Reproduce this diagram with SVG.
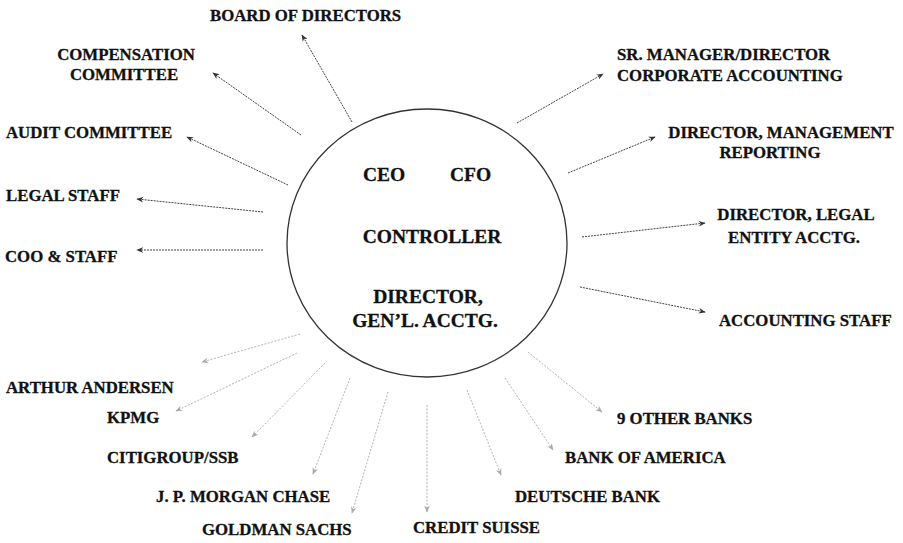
<svg xmlns="http://www.w3.org/2000/svg" width="903" height="543" viewBox="0 0 903 543">
  <style>
    text { font-family: "Liberation Serif", "Times New Roman", serif; font-weight: bold; fill: #111; stroke: #111; stroke-width: 0.3; }
    .lbl { font-size: 16.8px; }
    .core { font-size: 19.5px; }
    .mid { text-anchor: middle; }
    .link { fill: none; stroke: #444; stroke-width: 1; stroke-dasharray: 2 1; }
    .faint { fill: none; stroke: #b4b4b4; stroke-width: 1; stroke-dasharray: 2 1.5; }
  </style>
  <defs>
    <marker id="head" viewBox="0 0 10 8" refX="9" refY="4" markerWidth="7" markerHeight="6" orient="auto" markerUnits="userSpaceOnUse">
      <path d="M0,0 L10,4 L0,8 L3,4 z" fill="#333"/>
    </marker>
    <marker id="headFaint" viewBox="0 0 10 8" refX="9" refY="4" markerWidth="7" markerHeight="6" orient="auto" markerUnits="userSpaceOnUse">
      <path d="M0,0 L10,4 L0,8 L3,4 z" fill="#aaa"/>
    </marker>
  </defs>
  <rect width="903" height="543" fill="#fff"/>

  <!-- connectors -->
  <g id="connectors">
    <line class="link" x1="352" y1="122" x2="302" y2="35" marker-end="url(#head)"/>
    <line class="link" x1="301" y1="135" x2="213" y2="73" marker-end="url(#head)"/>
    <line class="link" x1="288" y1="185" x2="187" y2="137" marker-end="url(#head)"/>
    <line class="link" x1="263" y1="212" x2="137" y2="199" marker-end="url(#head)"/>
    <line class="link" x1="263" y1="250" x2="137" y2="250" marker-end="url(#head)"/>
    <line class="link" x1="517" y1="123" x2="603" y2="74" marker-end="url(#head)"/>
    <line class="link" x1="568" y1="173" x2="655" y2="137" marker-end="url(#head)"/>
    <line class="link" x1="582" y1="237" x2="705" y2="223" marker-end="url(#head)"/>
    <line class="link" x1="580" y1="287" x2="705" y2="312" marker-end="url(#head)"/>
    <line class="faint" x1="300" y1="334" x2="202" y2="362" marker-end="url(#headFaint)"/>
    <line class="faint" x1="297" y1="353" x2="176" y2="411" marker-end="url(#headFaint)"/>
    <line class="faint" x1="325" y1="363" x2="252" y2="437" marker-end="url(#headFaint)"/>
    <line class="faint" x1="350" y1="378" x2="313" y2="474" marker-end="url(#headFaint)"/>
    <line class="faint" x1="388" y1="392" x2="352" y2="513" marker-end="url(#headFaint)"/>
    <line class="faint" x1="427" y1="405" x2="427" y2="512" marker-end="url(#headFaint)"/>
    <line class="faint" x1="467" y1="390" x2="501" y2="475" marker-end="url(#headFaint)"/>
    <line class="faint" x1="505" y1="378" x2="553" y2="450" marker-end="url(#headFaint)"/>
    <line class="faint" x1="528" y1="352" x2="602" y2="412" marker-end="url(#headFaint)"/>
  </g>

  <!-- central hub -->
  <g id="hub">
    <ellipse cx="427" cy="243" rx="140" ry="134" fill="none" stroke="#333" stroke-width="1.3"/>
    <text class="core" x="363" y="181">CEO</text>
    <text class="core" x="450" y="181">CFO</text>
    <text class="core mid" x="432" y="243">CONTROLLER</text>
    <text class="core mid" x="428" y="303">DIRECTOR,</text>
    <text class="core mid" x="425" y="327">GEN’L. ACCTG.</text>
  </g>

  <!-- governance and internal recipients -->
  <g id="board"><text class="lbl" x="210" y="21">BOARD OF DIRECTORS</text></g>
  <g id="compensation">
    <text class="lbl mid" x="126" y="60">COMPENSATION</text>
    <text class="lbl mid" x="124" y="80">COMMITTEE</text>
  </g>
  <g id="audit"><text class="lbl" x="6" y="138">AUDIT COMMITTEE</text></g>
  <g id="legal"><text class="lbl" x="6" y="201">LEGAL STAFF</text></g>
  <g id="coo"><text class="lbl" x="5" y="262">COO &amp; STAFF</text></g>

  <g id="sr-manager">
    <text class="lbl" x="617" y="60">SR. MANAGER/DIRECTOR</text>
    <text class="lbl" x="617" y="81">CORPORATE ACCOUNTING</text>
  </g>
  <g id="mgmt-reporting">
    <text class="lbl mid" x="781" y="138">DIRECTOR, MANAGEMENT</text>
    <text class="lbl mid" x="770" y="158">REPORTING</text>
  </g>
  <g id="legal-entity">
    <text class="lbl mid" x="796" y="220">DIRECTOR, LEGAL</text>
    <text class="lbl mid" x="794" y="243">ENTITY ACCTG.</text>
  </g>
  <g id="accounting-staff"><text class="lbl" x="719" y="326">ACCOUNTING STAFF</text></g>

  <!-- external parties -->
  <g id="arthur-andersen"><text class="lbl" x="6" y="393">ARTHUR ANDERSEN</text></g>
  <g id="kpmg"><text class="lbl" x="107" y="423">KPMG</text></g>
  <g id="citigroup"><text class="lbl" x="107" y="463">CITIGROUP/SSB</text></g>
  <g id="jp-morgan"><text class="lbl" x="156" y="502">J. P. MORGAN CHASE</text></g>
  <g id="goldman"><text class="lbl" x="202" y="535">GOLDMAN SACHS</text></g>
  <g id="credit-suisse"><text class="lbl" x="413" y="533">CREDIT SUISSE</text></g>
  <g id="deutsche"><text class="lbl" x="515" y="502">DEUTSCHE BANK</text></g>
  <g id="bank-of-america"><text class="lbl" x="565" y="463">BANK OF AMERICA</text></g>
  <g id="other-banks"><text class="lbl" x="617" y="424">9 OTHER BANKS</text></g>
</svg>
